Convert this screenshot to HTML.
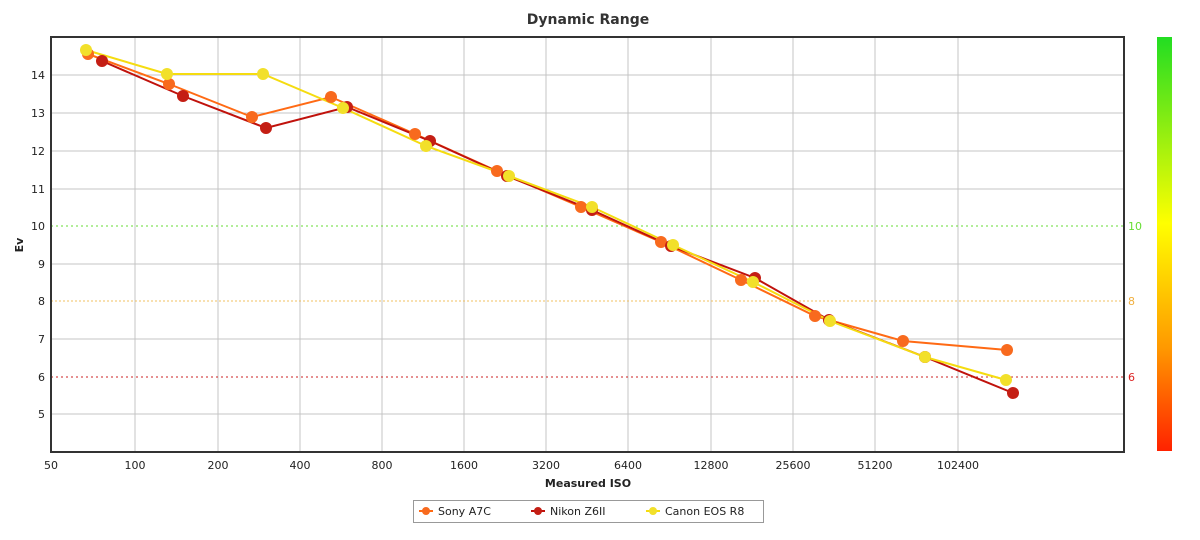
<!DOCTYPE html><html><head><style>body{margin:0;background:#fff;font-family:"DejaVu Sans",sans-serif}</style></head><body>
<svg width="1200" height="536" xmlns="http://www.w3.org/2000/svg" font-family="DejaVu Sans, sans-serif">
<defs><linearGradient id="g" x1="0" y1="0" x2="0" y2="1"><stop offset="0" stop-color="#22dd22"/><stop offset="0.45" stop-color="#ffff00"/><stop offset="0.75" stop-color="#ff9900"/><stop offset="1" stop-color="#ff2200"/></linearGradient></defs>
<text x="588" y="24" text-anchor="middle" font-size="14" font-weight="bold" fill="#333">Dynamic Range</text>
<g stroke="#c4c4c4" stroke-width="1">
<line x1="51" x2="1124" y1="75" y2="75"/><line x1="51" x2="1124" y1="113" y2="113"/><line x1="51" x2="1124" y1="151" y2="151"/><line x1="51" x2="1124" y1="189" y2="189"/><line x1="51" x2="1124" y1="264" y2="264"/><line x1="51" x2="1124" y1="339" y2="339"/><line x1="51" x2="1124" y1="414" y2="414"/>
<line x1="135" x2="135" y1="37" y2="452"/><line x1="218" x2="218" y1="37" y2="452"/><line x1="300" x2="300" y1="37" y2="452"/><line x1="382" x2="382" y1="37" y2="452"/><line x1="464" x2="464" y1="37" y2="452"/><line x1="546" x2="546" y1="37" y2="452"/><line x1="628" x2="628" y1="37" y2="452"/><line x1="711" x2="711" y1="37" y2="452"/><line x1="793" x2="793" y1="37" y2="452"/><line x1="875" x2="875" y1="37" y2="452"/><line x1="958" x2="958" y1="37" y2="452"/>
</g>
<line x1="51" x2="1124" y1="226" y2="226" stroke="#66dd33" stroke-dasharray="2,3"/>
<line x1="51" x2="1124" y1="301" y2="301" stroke="#f0c060" stroke-dasharray="2,2"/>
<line x1="51" x2="1124" y1="377" y2="377" stroke="#cc2222" stroke-dasharray="2,3"/>
<rect x="51" y="37" width="1073" height="415" fill="none" stroke="#333" stroke-width="2"/>
<g font-size="11" fill="#222" text-anchor="end">
<text x="45" y="79">14</text><text x="45" y="117">13</text><text x="45" y="155">12</text><text x="45" y="193">11</text><text x="45" y="230">10</text><text x="45" y="268">9</text><text x="45" y="305">8</text><text x="45" y="343">7</text><text x="45" y="381">6</text><text x="45" y="418">5</text></g>
<g font-size="11" fill="#222" text-anchor="middle">
<text x="51" y="469">50</text><text x="135" y="469">100</text><text x="218" y="469">200</text><text x="300" y="469">400</text><text x="382" y="469">800</text><text x="464" y="469">1600</text><text x="546" y="469">3200</text><text x="628" y="469">6400</text><text x="711" y="469">12800</text><text x="793" y="469">25600</text><text x="875" y="469">51200</text><text x="958" y="469">102400</text></g>
<text x="588" y="487" text-anchor="middle" font-size="11" font-weight="bold" fill="#222">Measured ISO</text>
<text x="23" y="245" text-anchor="middle" font-size="11" font-weight="bold" fill="#222" transform="rotate(-90 23 245)">Ev</text>
<text x="1128" y="230" font-size="11" fill="#66dd33">10</text><text x="1128" y="305" font-size="11" fill="#f0b040">8</text><text x="1128" y="381" font-size="11" fill="#dd2222">6</text>
<rect x="1157" y="37" width="15" height="414" fill="url(#g)"/>
<g stroke-width="2" fill="none">
<polyline stroke="#ff6a14" points="88,54 169,84 252,117 331,97 415,134 497,171 581,207 661,242 741,280 815,316 903,341 1007,350"/>
<polyline stroke="#c0120c" points="102,61 183,96 266,128 347,107 430,141 507,176 592,210 671,246 755,278 829,320 925,357 1013,393"/>
<polyline stroke="#f5dc10" points="86,50 167,74 263,74 343,108 426,146 509,176 592,207 673,245 753,282 830,321 925,357 1006,380"/>
</g>
<g fill="#f86a1e"><circle cx="88" cy="54" r="6"/><circle cx="169" cy="84" r="6"/><circle cx="252" cy="117" r="6"/><circle cx="331" cy="97" r="6"/><circle cx="415" cy="134" r="6"/><circle cx="497" cy="171" r="6"/><circle cx="581" cy="207" r="6"/><circle cx="661" cy="242" r="6"/><circle cx="741" cy="280" r="6"/><circle cx="815" cy="316" r="6"/><circle cx="903" cy="341" r="6"/><circle cx="1007" cy="350" r="6"/></g>
<g fill="#c41e14"><circle cx="102" cy="61" r="6"/><circle cx="183" cy="96" r="6"/><circle cx="266" cy="128" r="6"/><circle cx="347" cy="107" r="6"/><circle cx="430" cy="141" r="6"/><circle cx="507" cy="176" r="6"/><circle cx="592" cy="210" r="6"/><circle cx="671" cy="246" r="6"/><circle cx="755" cy="278" r="6"/><circle cx="829" cy="320" r="6"/><circle cx="925" cy="357" r="6"/><circle cx="1013" cy="393" r="6"/></g>
<g fill="#f2e02a"><circle cx="86" cy="50" r="6"/><circle cx="167" cy="74" r="6"/><circle cx="263" cy="74" r="6"/><circle cx="343" cy="108" r="6"/><circle cx="426" cy="146" r="6"/><circle cx="509" cy="176" r="6"/><circle cx="592" cy="207" r="6"/><circle cx="673" cy="245" r="6"/><circle cx="753" cy="282" r="6"/><circle cx="830" cy="321" r="6"/><circle cx="925" cy="357" r="6"/><circle cx="1006" cy="380" r="6"/></g>
<rect x="413.5" y="500.5" width="350" height="22" fill="#fff" stroke="#999"/>
<g font-size="11" fill="#222">
<line x1="419" x2="433" y1="511" y2="511" stroke="#ff6a14" stroke-width="2"/><circle cx="426" cy="511" r="4" fill="#f86a1e"/><text x="438" y="515">Sony A7C</text>
<line x1="531" x2="545" y1="511" y2="511" stroke="#c0120c" stroke-width="2"/><circle cx="538" cy="511" r="4" fill="#c41e14"/><text x="550" y="515">Nikon Z6II</text>
<line x1="646" x2="660" y1="511" y2="511" stroke="#f5dc10" stroke-width="2"/><circle cx="653" cy="511" r="4" fill="#f2e02a"/><text x="665" y="515">Canon EOS R8</text>
</g>
</svg></body></html>
